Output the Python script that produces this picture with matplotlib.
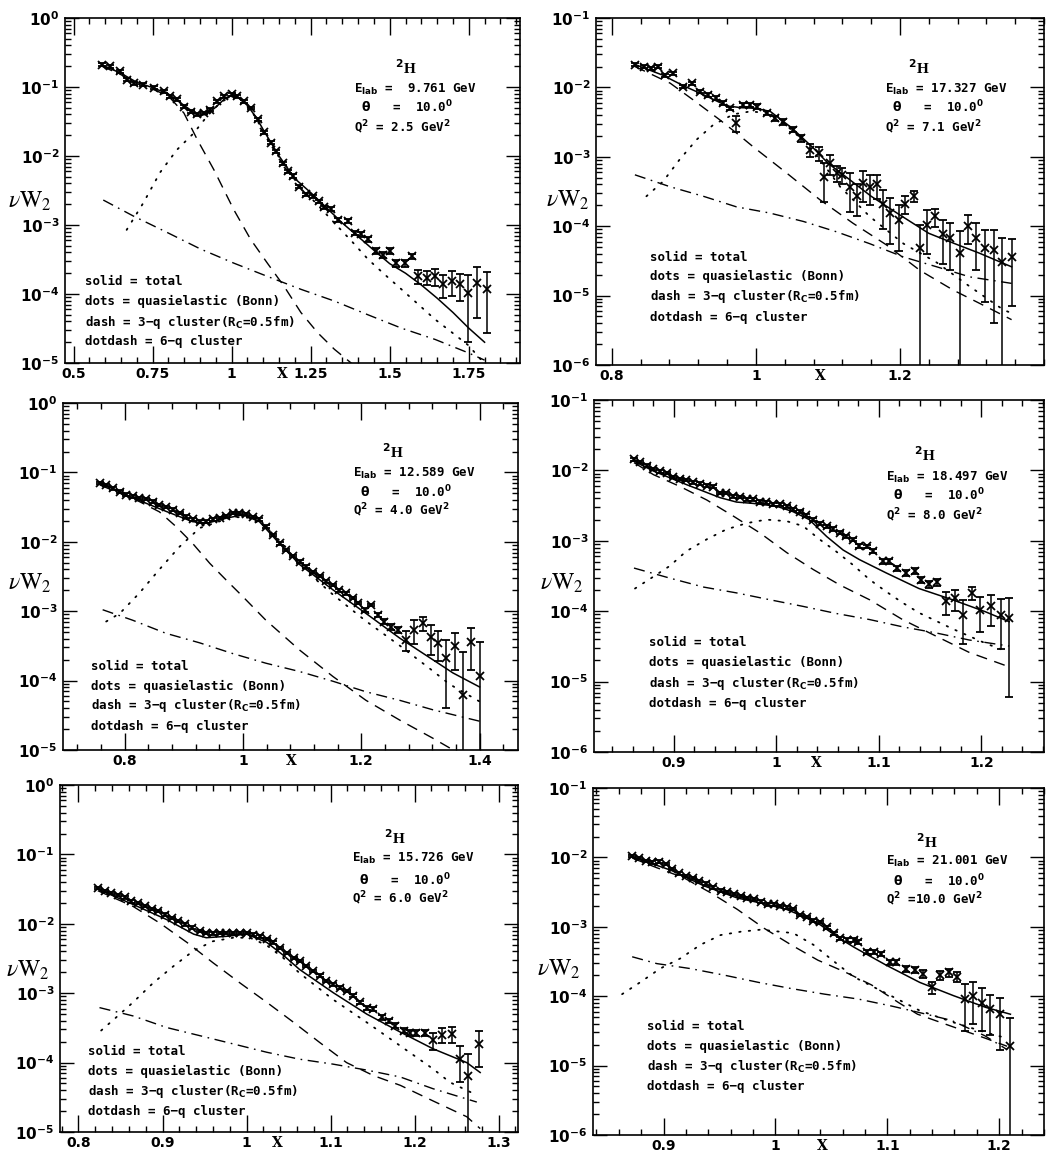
import matplotlib
matplotlib.use("Agg")
import matplotlib.pyplot as plt
from matplotlib.ticker import FixedLocator, MultipleLocator, LogLocator, NullFormatter

# ---------------------------------------------------------------- panel 1
P1_X = [0.589, 0.615, 0.647, 0.668, 0.690, 0.721, 0.753, 0.785, 0.806, 0.827,
        0.849, 0.870, 0.891, 0.912, 0.933, 0.954, 0.976, 1.000, 1.018, 1.039,
        1.060, 1.082, 1.103, 1.124, 1.140, 1.161, 1.177, 1.193, 1.214, 1.235,
        1.256, 1.277, 1.293, 1.315, 1.336, 1.368, 1.389, 1.410, 1.431, 1.458,
        1.479, 1.500, 1.521, 1.548, 1.569, 1.590, 1.617, 1.643, 1.670, 1.696,
        1.722, 1.749, 1.775, 1.807]
P1_Y = [0.211, 0.200, 0.170, 0.128, 0.114, 0.108, 0.097, 0.087, 0.073, 0.066,
        0.052, 0.044, 0.040, 0.042, 0.047, 0.062, 0.073, 0.078, 0.073, 0.062,
        0.050, 0.034, 0.022, 0.0155, 0.0117, 0.0079, 0.0060, 0.0051, 0.0036, 0.0028,
        0.0026, 0.0022, 0.0018, 0.0017, 0.0012, 0.00114, 0.00077, 0.00073, 0.00062, 0.00042,
        0.00037, 0.00042, 0.00028, 0.00028, 0.00035, 1.8e-4, 1.73e-4, 1.8e-4, 1.38e-4, 1.55e-4,
        1.38e-4, 1.04e-4, 1.45e-4, 1.17e-4]
P1_ERR = [0.010, 0.010, 0.009, 0.007, 0.006, 0.005, 0.005, 0.004, 0.004, 0.003,
          0.003, 0.002, 0.002, 0.002, 0.002, 0.003, 0.003, 0.003, 0.003, 0.003,
          0.002, 0.0015, 0.001, 0.0008, 0.0006, 0.0004, 0.0003, 0.0003, 0.0002, 0.00015,
          0.00015, 0.00012, 0.0001, 0.0001, 8e-5, 8e-5, 6e-5, 6e-5, 5e-5, 4e-5,
          4e-5, 4e-5, 3e-5, 3e-5, 3e-5, 4e-5, 4e-5, 5e-5, 5e-5, 6e-5,
          6e-5, 8.4e-5, 1.0e-4, 9e-5]
P1_TOT_X = [0.59, 0.65, 0.70, 0.75, 0.80, 0.85, 0.88, 0.90, 0.92, 0.95, 0.98, 1.00,
            1.02, 1.05, 1.08, 1.10, 1.15, 1.20, 1.25, 1.30, 1.35, 1.40, 1.45, 1.50,
            1.55, 1.60, 1.65, 1.70, 1.75, 1.80]
P1_TOT_Y = [0.209, 0.158, 0.117, 0.098, 0.079, 0.054, 0.043, 0.039, 0.040, 0.051, 0.069, 0.076,
            0.071, 0.054, 0.035, 0.024, 0.010, 0.0047, 0.00295, 0.00178, 0.00107, 0.00068, 0.00043, 0.000275,
            0.0002, 0.000135, 8.7e-5, 5.4e-5, 3.2e-5, 2.0e-5]
P1_QE_X = [0.668, 0.721, 0.774, 0.827, 0.88, 0.923, 0.965, 1.0, 1.035, 1.07, 1.10, 1.134,
           1.17, 1.219, 1.27, 1.325, 1.38, 1.431, 1.485, 1.537, 1.59, 1.643, 1.70, 1.749, 1.79]
P1_QE_Y = [8.5e-4, 2.1e-3, 5.8e-3, 0.0123, 0.0214, 0.038, 0.060, 0.073, 0.063, 0.040, 0.023, 0.0126,
           0.0068, 0.0035, 0.0020, 0.00107, 0.00058, 0.00032, 0.00019, 0.000117, 7.1e-5, 4.3e-5,
           2.7e-5, 1.8e-5, 1.1e-5]
P1_C3_X = [0.59, 0.65, 0.70, 0.75, 0.80, 0.849, 0.891, 0.944, 1.007, 1.06, 1.113, 1.166,
           1.219, 1.272, 1.325, 1.378, 1.40]
P1_C3_Y = [0.20, 0.151, 0.112, 0.093, 0.074, 0.042, 0.0174, 0.0063, 0.00166, 0.00062, 0.00028,
           0.000129, 5.4e-5, 2.75e-5, 1.58e-5, 1.0e-5, 8e-6]
P1_C6_X = [0.594, 0.689, 0.796, 0.901, 1.007, 1.113, 1.219, 1.325, 1.431, 1.537, 1.643, 1.749, 1.80]
P1_C6_Y = [2.3e-3, 1.35e-3, 7.8e-4, 4.5e-4, 2.8e-4, 1.8e-4, 1.17e-4, 7.9e-5, 5.0e-5, 3.2e-5,
           2.2e-5, 1.4e-5, 1.1e-5]

# ---------------------------------------------------------------- panel 2
P2_X = [0.832, 0.844, 0.855, 0.864, 0.874, 0.885, 0.899, 0.911, 0.922, 0.934,
        0.945, 0.955, 0.964, 0.973, 0.982, 0.992, 1.001, 1.015, 1.026, 1.038,
        1.052, 1.063, 1.075, 1.087, 1.094, 1.103, 1.112, 1.119, 1.131, 1.140,
        1.149, 1.158, 1.168, 1.177, 1.186, 1.198, 1.207, 1.219, 1.228, 1.237,
        1.249, 1.260, 1.269, 1.283, 1.295, 1.306, 1.318, 1.330, 1.341, 1.355]
P2_Y = [0.0213, 0.020, 0.019, 0.020, 0.015, 0.016, 0.0103, 0.0115, 0.0087, 0.0078,
        0.0070, 0.0059, 0.0050, 0.0031, 0.0056, 0.0056, 0.0053, 0.0043, 0.0036, 0.0032,
        0.00245, 0.00186, 0.00126, 0.00113, 0.00052, 0.00081, 0.00058, 0.00055, 0.00037, 0.00027,
        0.00042, 0.00037, 0.00040, 0.00021, 1.55e-4, 1.24e-4, 2.1e-4, 2.7e-4, 4.8e-5, 1.05e-4,
        1.38e-4, 7.6e-5, 6.8e-5, 4.1e-5, 1.0e-4, 6.8e-5, 4.8e-5, 4.6e-5, 3.0e-5, 3.6e-5]
P2_ERR = [0.0009, 0.0009, 0.0009, 0.0009, 0.0008, 0.0008, 0.0006, 0.0006, 0.0005, 0.0005,
          0.0004, 0.0004, 0.0003, 0.0008, 0.0004, 0.0004, 0.0004, 0.0003, 0.0003, 0.0003,
          0.0002, 0.0002, 0.00025, 0.00025, 0.0003, 0.00026, 0.00015, 0.00015, 0.00021, 0.00013,
          0.0002, 0.00017, 0.00015, 0.00012, 1.0e-4, 8e-5, 6e-5, 5e-5, 5.7e-5, 6.5e-5,
          4e-5, 4.7e-5, 4.5e-5, 4.5e-5, 4.5e-5, 4.5e-5, 4e-5, 4.2e-5, 3.8e-5, 2.9e-5]
P2_TOT_X = [0.832, 0.87, 0.90, 0.93, 0.96, 0.98, 1.00, 1.02, 1.05, 1.08, 1.10, 1.13, 1.16,
            1.20, 1.24, 1.28, 1.31, 1.355]
P2_TOT_Y = [0.0214, 0.0151, 0.0105, 0.0076, 0.0054, 0.0051, 0.0050, 0.0045, 0.0026, 0.00133,
            0.00081, 0.00047, 0.00027, 0.000145, 7.9e-5, 5.4e-5, 4.1e-5, 2.6e-5]
P2_QE_X = [0.848, 0.871, 0.894, 0.918, 0.941, 0.969, 0.992, 1.015, 1.043, 1.066, 1.089, 1.117,
           1.158, 1.205, 1.251, 1.297, 1.344, 1.355]
P2_QE_Y = [2.7e-4, 4.4e-4, 9.1e-4, 1.78e-3, 2.9e-3, 4.1e-3, 4.5e-3, 4.3e-3, 2.8e-3, 1.7e-3,
           9.1e-4, 3.7e-4, 1.38e-4, 5.6e-5, 3.0e-5, 1.35e-5, 6.2e-6, 5.6e-6]
P2_C3_X = [0.832, 0.881, 0.913, 0.95, 0.973, 0.996, 1.043, 1.089, 1.135, 1.181, 1.228, 1.274,
           1.32, 1.355]
P2_C3_Y = [0.020, 0.0115, 0.0066, 0.0034, 0.0022, 0.0014, 5.8e-4, 2.4e-4, 1.1e-4, 5.4e-5,
           2.3e-5, 1.2e-5, 6.9e-6, 4.5e-6]
P2_C6_X = [0.832, 0.881, 0.927, 0.973, 1.019, 1.066, 1.112, 1.158, 1.205, 1.251, 1.297, 1.355]
P2_C6_Y = [5.5e-4, 3.7e-4, 2.7e-4, 1.9e-4, 1.55e-4, 1.17e-4, 8.3e-5, 5.6e-5, 3.6e-5, 2.6e-5,
           1.86e-5, 1.5e-5]

# ---------------------------------------------------------------- panel 3
P3_X = [0.758, 0.769, 0.780, 0.792, 0.803, 0.814, 0.825, 0.837, 0.848, 0.859,
        0.870, 0.882, 0.893, 0.904, 0.915, 0.927, 0.938, 0.949, 0.961, 0.972,
        0.983, 0.994, 1.006, 1.017, 1.028, 1.039, 1.051, 1.062, 1.073, 1.085,
        1.096, 1.107, 1.118, 1.130, 1.141, 1.152, 1.163, 1.175, 1.186, 1.194,
        1.206, 1.217, 1.228, 1.239, 1.251, 1.262, 1.276, 1.290, 1.304, 1.318,
        1.330, 1.344, 1.358, 1.372, 1.386, 1.400]
P3_Y = [0.070, 0.066, 0.059, 0.053, 0.048, 0.045, 0.043, 0.041, 0.038, 0.034,
        0.032, 0.029, 0.026, 0.023, 0.021, 0.0196, 0.0196, 0.021, 0.022, 0.0236,
        0.026, 0.026, 0.025, 0.023, 0.021, 0.0166, 0.0126, 0.0095, 0.0076, 0.0062,
        0.0052, 0.0044, 0.0037, 0.0032, 0.0027, 0.0024, 0.0020, 0.0018, 0.00155, 0.00131,
        0.00105, 0.00123, 8.9e-4, 7.1e-4, 6.0e-4, 5.4e-4, 3.9e-4, 5.4e-4, 6.7e-4, 4.3e-4,
        3.5e-4, 2.1e-4, 3.1e-4, 6.2e-5, 3.6e-4, 1.15e-4]
P3_ERR = [0.003, 0.003, 0.0025, 0.0022, 0.002, 0.0018, 0.0017, 0.0016, 0.0015, 0.0014,
          0.0013, 0.0012, 0.0011, 0.001, 0.0009, 0.0008, 0.0008, 0.0008, 0.0009, 0.0009,
          0.001, 0.001, 0.001, 0.0009, 0.0008, 0.0007, 0.0005, 0.0004, 0.0003, 0.00025,
          0.0002, 0.00018, 0.00015, 0.00013, 0.00011, 0.0001, 9e-5, 8e-5, 7e-5, 6e-5,
          6e-5, 6e-5, 6e-5, 6e-5, 6e-5, 6e-5, 1.2e-4, 2e-4, 1.5e-4, 2e-4,
          1.6e-4, 1.7e-4, 1.7e-4, 2e-4, 2.2e-4, 2.4e-4]
P3_TOT_X = [0.758, 0.814, 0.87, 0.915, 0.94, 0.972, 1.0, 1.028, 1.056, 1.096, 1.152, 1.208,
            1.265, 1.321, 1.355, 1.40]
P3_TOT_Y = [0.071, 0.043, 0.0275, 0.0195, 0.0186, 0.0219, 0.0245, 0.0195, 0.0107, 0.0047,
            0.00204, 9.3e-4, 4.1e-4, 2.0e-4, 1.29e-4, 8.1e-5]
P3_QE_X = [0.769, 0.792, 0.825, 0.859, 0.893, 0.927, 0.955, 0.983, 1.011, 1.039, 1.068, 1.096,
           1.152, 1.208, 1.265, 1.321, 1.349, 1.40]
P3_QE_Y = [7.1e-4, 9.3e-4, 1.82e-3, 4.0e-3, 8.5e-3, 0.0158, 0.0190, 0.0228, 0.0222, 0.0162,
           0.0093, 0.0046, 1.74e-3, 7.2e-4, 3.2e-4, 1.38e-4, 8.9e-5, 5.0e-5]
P3_C3_X = [0.758, 0.80, 0.825, 0.859, 0.887, 0.915, 0.944, 0.972, 1.0, 1.039, 1.096, 1.152,
           1.208, 1.265, 1.321, 1.36]
P3_C3_Y = [0.066, 0.047, 0.038, 0.027, 0.0166, 0.0095, 0.0049, 0.0028, 0.00162, 7.4e-4,
           2.75e-4, 1.15e-4, 5.2e-5, 2.7e-5, 1.48e-5, 9.5e-6]
P3_C6_X = [0.763, 0.814, 0.87, 0.927, 0.983, 1.039, 1.096, 1.152, 1.208, 1.265, 1.321, 1.40]
P3_C6_Y = [1.05e-3, 7.4e-4, 4.8e-4, 3.5e-4, 2.45e-4, 1.78e-4, 1.35e-4, 9.8e-5, 6.9e-5, 5.2e-5,
           3.8e-5, 2.6e-5]

# ---------------------------------------------------------------- panel 4
P4_X = [0.861, 0.867, 0.874, 0.880, 0.886, 0.893, 0.899, 0.906, 0.912, 0.919,
        0.925, 0.932, 0.938, 0.945, 0.951, 0.958, 0.964, 0.971, 0.977, 0.984,
        0.990, 0.997, 1.003, 1.010, 1.016, 1.023, 1.029, 1.036, 1.042, 1.049,
        1.055, 1.062, 1.068, 1.075, 1.081, 1.088, 1.094, 1.104, 1.110, 1.118,
        1.126, 1.135, 1.141, 1.149, 1.157, 1.165, 1.174, 1.182, 1.191, 1.199,
        1.209, 1.219, 1.227]
P4_Y = [0.0143, 0.0131, 0.0117, 0.0105, 0.0097, 0.0092, 0.0081, 0.0076, 0.0073, 0.0068,
        0.0065, 0.0061, 0.0059, 0.0048, 0.0048, 0.0043, 0.0042, 0.0039, 0.0039, 0.0036,
        0.0035, 0.0033, 0.0033, 0.0031, 0.0028, 0.0026, 0.0023, 0.0020, 0.00175, 0.0016,
        0.00148, 0.0013, 0.00116, 0.00104, 8.5e-4, 8.3e-4, 7.1e-4, 5.1e-4, 5.1e-4, 4.1e-4,
        3.5e-4, 3.7e-4, 2.8e-4, 2.4e-4, 2.6e-4, 1.39e-4, 1.52e-4, 8.9e-5, 1.82e-4, 1.05e-4,
        1.17e-4, 8.9e-5, 8.0e-5]
P4_ERR = [0.0006, 0.0005, 0.0005, 0.0004, 0.0004, 0.0004, 0.0003, 0.0003, 0.0003, 0.0003,
          0.0003, 0.0003, 0.0003, 0.0002, 0.0002, 0.0002, 0.0002, 0.00018, 0.00018, 0.00016,
          0.00016, 0.00015, 0.00015, 0.00014, 0.00013, 0.00012, 0.00011, 0.0001, 9e-5, 8e-5,
          8e-5, 7e-5, 6e-5, 6e-5, 5e-5, 5e-5, 4.5e-5, 4e-5, 4e-5, 3.5e-5,
          3.5e-5, 3.5e-5, 3e-5, 2.5e-5, 3e-5, 5e-5, 5e-5, 5.5e-5, 4e-5, 5.5e-5,
          5.5e-5, 6e-5, 7.4e-5]
P4_TOT_X = [0.861, 0.88, 0.912, 0.945, 0.961, 0.977, 1.0, 1.016, 1.032, 1.049, 1.065, 1.081,
            1.107, 1.139, 1.172, 1.204, 1.227]
P4_TOT_Y = [0.0135, 0.0098, 0.0063, 0.0041, 0.00355, 0.0034, 0.0031, 0.0026, 0.0020, 0.00115,
            7.4e-4, 5.4e-4, 3.5e-4, 2.1e-4, 1.45e-4, 9.8e-5, 7.1e-5]
P4_QE_X = [0.862, 0.88, 0.896, 0.912, 0.932, 0.951, 0.971, 0.99, 1.01, 1.026, 1.042, 1.058,
           1.075, 1.091, 1.107, 1.123, 1.139, 1.172, 1.204, 1.221]
P4_QE_Y = [2.1e-4, 3.1e-4, 4.4e-4, 7.1e-4, 1.05e-3, 1.45e-3, 1.78e-3, 2.0e-3, 1.9e-3, 1.62e-3,
           1.05e-3, 7.1e-4, 4.5e-4, 2.8e-4, 1.9e-4, 1.32e-4, 9.5e-5, 5.6e-5, 3.5e-5, 2.8e-5]
P4_C3_X = [0.861, 0.88, 0.906, 0.932, 0.958, 0.984, 1.01, 1.036, 1.062, 1.091, 1.123, 1.156,
           1.188, 1.227]
P4_C3_Y = [0.0129, 0.0087, 0.0059, 0.0038, 0.00224, 0.00129, 6.8e-4, 3.9e-4, 2.35e-4, 1.45e-4,
           7.6e-5, 4.4e-5, 2.6e-5, 1.62e-5]
P4_C6_X = [0.861, 0.896, 0.929, 0.961, 0.994, 1.026, 1.058, 1.091, 1.123, 1.156, 1.188, 1.227]
P4_C6_Y = [4.1e-4, 2.95e-4, 2.2e-4, 1.82e-4, 1.45e-4, 1.17e-4, 9.3e-5, 7.6e-5, 6.0e-5, 4.9e-5,
           3.9e-5, 3.2e-5]

# ---------------------------------------------------------------- panel 5
P5_X = [0.823, 0.831, 0.839, 0.847, 0.855, 0.863, 0.871, 0.879, 0.887, 0.895,
        0.903, 0.911, 0.919, 0.927, 0.935, 0.944, 0.952, 0.960, 0.968, 0.976,
        0.984, 0.992, 1.000, 1.008, 1.016, 1.024, 1.032, 1.040, 1.048, 1.056,
        1.063, 1.071, 1.079, 1.087, 1.095, 1.103, 1.111, 1.119, 1.127, 1.135,
        1.143, 1.151, 1.161, 1.169, 1.177, 1.187, 1.194, 1.202, 1.212, 1.222,
        1.232, 1.244, 1.254, 1.264, 1.276]
P5_Y = [0.033, 0.030, 0.028, 0.026, 0.024, 0.021, 0.020, 0.018, 0.0165, 0.0152,
        0.0136, 0.0122, 0.0109, 0.0098, 0.0088, 0.0078, 0.0074, 0.0073, 0.0074, 0.0074,
        0.0074, 0.0074, 0.0074, 0.0070, 0.0066, 0.0060, 0.0054, 0.0045, 0.0038, 0.0032,
        0.0029, 0.00245, 0.0021, 0.00178, 0.0015, 0.00135, 0.0012, 0.00108, 9.2e-4, 7.4e-4,
        6.2e-4, 5.9e-4, 4.5e-4, 4.0e-4, 3.4e-4, 2.9e-4, 2.7e-4, 2.7e-4, 2.7e-4, 2.1e-4,
        2.5e-4, 2.6e-4, 1.12e-4, 6.5e-5, 1.86e-4]
P5_ERR = [0.0012, 0.0011, 0.001, 0.001, 0.0009, 0.0008, 0.0008, 0.0007, 0.0006, 0.0006,
          0.0005, 0.0005, 0.0004, 0.0004, 0.0004, 0.0003, 0.0003, 0.0003, 0.0003, 0.0003,
          0.0003, 0.0003, 0.0003, 0.0003, 0.0003, 0.00025, 0.00022, 0.0002, 0.00016, 0.00014,
          0.00012, 0.0001, 9e-5, 8e-5, 7e-5, 6e-5, 6e-5, 5e-5, 5e-5, 4e-5,
          4e-5, 4e-5, 3.5e-5, 3e-5, 3e-5, 2.5e-5, 2.5e-5, 2.5e-5, 2.5e-5, 6e-5,
          6e-5, 7e-5, 6e-5, 7e-5, 1e-4]
P5_TOT_X = [0.823, 0.865, 0.905, 0.937, 0.952, 0.976, 1.0, 1.024, 1.044, 1.063, 1.103, 1.143,
            1.183, 1.222, 1.262, 1.278]
P5_TOT_Y = [0.0316, 0.019, 0.0115, 0.0071, 0.0063, 0.0066, 0.0071, 0.0054, 0.0035, 0.0022,
            0.00102, 5.0e-4, 2.75e-4, 1.58e-4, 1.0e-4, 7.2e-5]
P5_QE_X = [0.827, 0.845, 0.865, 0.889, 0.913, 0.937, 0.96, 0.984, 1.004, 1.024, 1.044, 1.063,
           1.103, 1.143, 1.183, 1.222, 1.242, 1.274]
P5_QE_Y = [2.9e-4, 4.5e-4, 7.4e-4, 1.41e-3, 2.45e-3, 4.1e-3, 5.6e-3, 6.3e-3, 6.3e-3, 4.9e-3,
           3.2e-3, 1.95e-3, 8.1e-4, 3.8e-4, 1.74e-4, 8.1e-5, 5.2e-5, 3.4e-5]
P5_C3_X = [0.823, 0.865, 0.897, 0.929, 0.96, 0.992, 1.024, 1.056, 1.087, 1.119, 1.151, 1.183,
           1.222, 1.262, 1.278]
P5_C3_Y = [0.030, 0.0178, 0.0102, 0.0054, 0.00275, 1.41e-3, 7.4e-4, 3.8e-4, 1.95e-4, 1.0e-4,
           6.5e-5, 4.7e-5, 2.8e-5, 1.66e-5, 1.12e-5]
P5_C6_X = [0.825, 0.865, 0.905, 0.944, 0.984, 1.024, 1.063, 1.103, 1.143, 1.183, 1.222, 1.274]
P5_C6_Y = [6.2e-4, 4.7e-4, 3.2e-4, 2.45e-4, 1.86e-4, 1.41e-4, 1.12e-4, 9.5e-5, 7.8e-5, 6.2e-5,
           4.2e-5, 2.7e-5]

# ---------------------------------------------------------------- panel 6
P6_X = [0.872, 0.878, 0.884, 0.890, 0.896, 0.902, 0.908, 0.914, 0.920, 0.926,
        0.932, 0.938, 0.944, 0.951, 0.957, 0.963, 0.969, 0.975, 0.981, 0.987,
        0.993, 0.999, 1.004, 1.010, 1.016, 1.022, 1.028, 1.034, 1.040, 1.046,
        1.052, 1.058, 1.064, 1.070, 1.074, 1.082, 1.088, 1.094, 1.102, 1.108,
        1.117, 1.125, 1.132, 1.140, 1.147, 1.155, 1.162, 1.169, 1.177, 1.185,
        1.192, 1.201, 1.210]
P6_Y = [0.0105, 0.0098, 0.0089, 0.0085, 0.0087, 0.0080, 0.0068, 0.0059, 0.0054, 0.0051,
        0.0046, 0.0042, 0.0037, 0.0033, 0.0032, 0.0030, 0.0028, 0.0026, 0.0025, 0.0023,
        0.0021, 0.0021, 0.0020, 0.0019, 0.0018, 0.00148, 0.00138, 0.00123, 0.00117, 9.8e-4,
        8.1e-4, 6.8e-4, 6.4e-4, 6.4e-4, 6.1e-4, 4.4e-4, 4.4e-4, 4.1e-4, 3.1e-4, 3.1e-4,
        2.5e-4, 2.4e-4, 2.1e-4, 1.34e-4, 2.0e-4, 2.2e-4, 1.9e-4, 9.1e-5, 1.0e-4, 8.1e-5,
        6.6e-5, 5.5e-5, 1.9e-5]
P6_ERR = [0.0004, 0.0004, 0.0004, 0.0004, 0.0004, 0.0003, 0.0003, 0.0003, 0.0002, 0.0002,
          0.0002, 0.0002, 0.00015, 0.00015, 0.00013, 0.00012, 0.00011, 0.0001, 0.0001, 0.0001,
          9e-5, 9e-5, 9e-5, 8e-5, 8e-5, 7e-5, 6e-5, 6e-5, 5e-5, 5e-5,
          4e-5, 4e-5, 4e-5, 4e-5, 4e-5, 3e-5, 3e-5, 3e-5, 2.5e-5, 2.5e-5,
          2.5e-5, 2.5e-5, 2.5e-5, 2.5e-5, 3e-5, 3e-5, 3e-5, 6e-5, 6e-5, 5e-5,
          3.8e-5, 3.8e-5, 3e-5]
P6_TOT_X = [0.872, 0.907, 0.936, 0.966, 0.987, 1.01, 1.025, 1.04, 1.055, 1.07, 1.099, 1.129,
            1.159, 1.188, 1.21]
P6_TOT_Y = [0.0102, 0.0065, 0.0039, 0.0026, 0.0022, 0.00178, 0.00141, 0.00107, 7.2e-4, 5.1e-4,
            2.8e-4, 1.58e-4, 1.02e-4, 6.9e-5, 5.5e-5]
P6_QE_X = [0.863, 0.879, 0.897, 0.915, 0.933, 0.951, 0.969, 0.987, 1.016, 1.034, 1.052, 1.07,
           1.088, 1.109, 1.129, 1.159, 1.188, 1.206]
P6_QE_Y = [1.07e-4, 1.58e-4, 2.5e-4, 3.5e-4, 5.5e-4, 7.6e-4, 8.5e-4, 9.1e-4, 8.1e-4, 5.5e-4,
           3.2e-4, 1.9e-4, 1.35e-4, 9.1e-5, 6.2e-5, 4.2e-5, 3.0e-5, 2.5e-5]
P6_C3_X = [0.872, 0.894, 0.918, 0.942, 0.966, 0.99, 1.014, 1.038, 1.062, 1.086, 1.11, 1.127,
           1.157, 1.187, 1.207]
P6_C3_Y = [0.0098, 0.0071, 0.0051, 0.0031, 0.00178, 9.5e-4, 5.5e-4, 3.3e-4, 2.24e-4, 1.45e-4,
           8.1e-5, 5.5e-5, 3.7e-5, 2.5e-5, 1.9e-5]
P6_C6_X = [0.872, 0.894, 0.924, 0.955, 0.985, 1.014, 1.044, 1.074, 1.104, 1.127, 1.157, 1.187, 1.207]
P6_C6_Y = [3.7e-4, 2.95e-4, 2.5e-4, 2.0e-4, 1.58e-4, 1.29e-4, 1.07e-4, 9.1e-5, 7.2e-5, 5.9e-5,
           4.5e-5, 2.7e-5, 1.7e-5]

# kinematics shown in each panel
E_LAB = ["9.761", "17.327", "12.589", "18.497", "15.726", "21.001"]
Q2 = ["2.5", "7.1", "4.0", "8.0", "6.0", "10.0"]

LEGEND = ["solid = total",
          "dots = quasielastic (Bonn)",
          "dash = 3\u2212q cluster(R$_{\\mathbf{C}}$=0.5fm)",
          "dotdash = 6\u2212q cluster"]

W, H = 1047, 1156
MONO = "DejaVu Sans Mono"


def add_panel(fig, box, xlim, ydec, major, minor, xpos_x, texts_at, legend_at, ylabel_at,
              data, curves, ek, q2):
    l, t, r, b = box
    ax = fig.add_axes([l / W, 1 - b / H, (r - l) / W, (b - t) / H])
    x, y, err = data
    tot, qe, c3, c6 = curves
    ax.set_yscale("log")
    ax.plot(tot[0], tot[1], color="k", lw=1.1, ls="-")
    ax.plot(qe[0], qe[1], color="k", lw=1.3, ls=(0, (0.8, 4.5)), dash_capstyle="round")
    ax.plot(c3[0], c3[1], color="k", lw=1.0, ls=(0, (8, 5.5)))
    ax.plot(c6[0], c6[1], color="k", lw=1.0, ls=(0, (8, 4, 1.2, 4)))
    ax.errorbar(x, y, yerr=err, fmt="x", color="k", ms=6, mew=1.3, elinewidth=1.1,
                capsize=3, capthick=1.1)

    ax.set_xlim(*xlim)
    ax.set_ylim(10.0 ** ydec[0], 10.0 ** ydec[1])
    ax.xaxis.set_major_locator(FixedLocator(major))
    ax.xaxis.set_minor_locator(MultipleLocator(minor))
    ax.set_xticklabels([f"{m:g}" for m in major], fontsize=10, fontweight="bold",
                       fontfamily="DejaVu Sans")
    decs = list(range(ydec[0], ydec[1] + 1))
    ax.yaxis.set_major_locator(FixedLocator([10.0 ** d for d in decs]))
    ax.set_yticklabels([r"$\mathbf{10^{%d}}$" % d for d in decs], fontsize=11)
    ax.yaxis.set_minor_locator(LogLocator(base=10, subs=range(2, 10), numticks=20))
    ax.yaxis.set_minor_formatter(NullFormatter())
    ax.tick_params(which="both", direction="in", top=True, right=True, width=1.0)
    ax.tick_params(axis="x", which="major", length=12, pad=3)
    ax.tick_params(axis="x", which="minor", length=4)
    ax.tick_params(axis="y", which="major", length=10, pad=4)
    ax.tick_params(axis="y", which="minor", length=4)
    for s in ax.spines.values():
        s.set_linewidth(1.2)

    ax.text(xpos_x, -0.012, "X", transform=ax.get_xaxis_transform(), ha="center",
            va="top", fontsize=10, fontweight="bold", fontfamily="DejaVu Serif")
    ax.text(ylabel_at[0], ylabel_at[1], r"$\nu\mathrm{W}_2$", transform=ax.transAxes,
            ha="center", va="center", fontsize=17, math_fontfamily="stix")

    hx, tx, ys = texts_at
    ax.text(hx, ys[0], r"$^{\mathbf{2}}$H", transform=ax.transAxes, ha="center",
            va="center", fontsize=11, fontfamily="Liberation Serif", fontweight="bold")
    pad = " " if len(ek) < 6 else ""
    lines = [r"E$_{\mathbf{lab}}$ = " + pad + ek + " GeV",
             r" $\mathbf{\theta}$   =  10.0$^{\mathbf{0}}$",
             r"Q$^{\mathbf{2}}$ =" + ("" if len(q2) > 3 else " ") + q2 + r" GeV$^{\mathbf{2}}$"]
    for s, yy in zip(lines, ys[1:]):
        ax.text(tx, yy, s, transform=ax.transAxes, ha="left", va="center",
                fontsize=9, fontfamily=MONO, fontweight="bold")

    lx, lys = legend_at
    for s, yy in zip(LEGEND, lys):
        ax.text(lx, yy, s, transform=ax.transAxes, ha="left", va="center",
                fontsize=9, fontfamily=MONO, fontweight="bold")
    return ax


fig = plt.figure(figsize=(W / 100, H / 100), dpi=100)

add_panel(fig, (65, 18, 520, 363), (0.473, 1.912), (-5, 0),
          [0.5, 0.75, 1.0, 1.25, 1.5, 1.75], 0.05, 1.16,
          (0.75, 0.636, [0.855, 0.794, 0.742, 0.684]),
          (0.044, [0.235, 0.177, 0.118, 0.061]), (-0.077, 0.47),
          (P1_X, P1_Y, P1_ERR),
          ((P1_TOT_X, P1_TOT_Y), (P1_QE_X, P1_QE_Y), (P1_C3_X, P1_C3_Y), (P1_C6_X, P1_C6_Y)),
          E_LAB[0], Q2[0])

add_panel(fig, (596, 18, 1044, 365), (0.778, 1.40), (-6, -1),
          [0.8, 1.0, 1.2], 0.04, 1.089,
          (0.72, 0.644, [0.856, 0.795, 0.744, 0.686]),
          (0.12, [0.311, 0.254, 0.196, 0.138]), (-0.064, 0.475),
          (P2_X, P2_Y, P2_ERR),
          ((P2_TOT_X, P2_TOT_Y), (P2_QE_X, P2_QE_Y), (P2_C3_X, P2_C3_Y), (P2_C6_X, P2_C6_Y)),
          E_LAB[1], Q2[1])

add_panel(fig, (63, 403, 518, 750), (0.696, 1.465), (-5, 0),
          [0.8, 1.0, 1.2, 1.4], 0.04, 1.082,
          (0.725, 0.637, [0.859, 0.798, 0.744, 0.692]),
          (0.061, [0.242, 0.184, 0.127, 0.069]), (-0.073, 0.48),
          (P3_X, P3_Y, P3_ERR),
          ((P3_TOT_X, P3_TOT_Y), (P3_QE_X, P3_QE_Y), (P3_C3_X, P3_C3_Y), (P3_C6_X, P3_C6_Y)),
          E_LAB[2], Q2[2])

add_panel(fig, (594, 400, 1044, 752), (0.822, 1.261), (-6, -1),
          [0.9, 1.0, 1.1, 1.2], 0.02, 1.039,
          (0.734, 0.65, [0.844, 0.781, 0.73, 0.673]),
          (0.122, [0.31, 0.253, 0.196, 0.139]), (-0.071, 0.48),
          (P4_X, P4_Y, P4_ERR),
          ((P4_TOT_X, P4_TOT_Y), (P4_QE_X, P4_QE_Y), (P4_C3_X, P4_C3_Y), (P4_C6_X, P4_C6_Y)),
          E_LAB[3], Q2[3])

add_panel(fig, (60, 785, 518, 1132), (0.778, 1.323), (-5, 0),
          [0.8, 0.9, 1.0, 1.1, 1.2, 1.3], 0.02, 1.036,
          (0.731, 0.638, [0.848, 0.787, 0.727, 0.675]),
          (0.061, [0.233, 0.175, 0.118, 0.060]), (-0.07, 0.468),
          (P5_X, P5_Y, P5_ERR),
          ((P5_TOT_X, P5_TOT_Y), (P5_QE_X, P5_QE_Y), (P5_C3_X, P5_C3_Y), (P5_C6_X, P5_C6_Y)),
          E_LAB[4], Q2[4])

add_panel(fig, (593, 788, 1044, 1135), (0.837, 1.240), (-6, -1),
          [0.9, 1.0, 1.1, 1.2], 0.02, 1.042,
          (0.741, 0.65, [0.845, 0.788, 0.731, 0.679]),
          (0.12, [0.312, 0.255, 0.198, 0.14]), (-0.075, 0.478),
          (P6_X, P6_Y, P6_ERR),
          ((P6_TOT_X, P6_TOT_Y), (P6_QE_X, P6_QE_Y), (P6_C3_X, P6_C3_Y), (P6_C6_X, P6_C6_Y)),
          E_LAB[5], Q2[5])

fig.savefig("out.png", dpi=100)
